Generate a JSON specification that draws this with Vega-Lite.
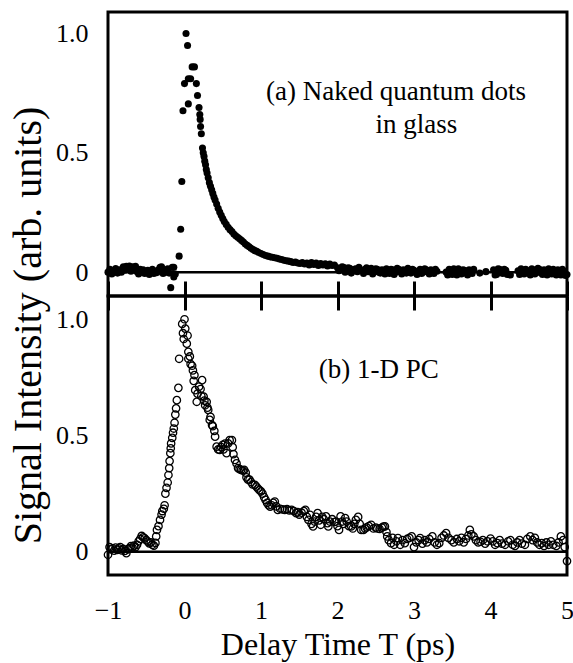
{
  "$schema": "https://vega.github.io/schema/vega-lite/v6.json",
  "background": "white",
  "padding": {"left": 6, "top": 10, "right": 3, "bottom": 4},
  "spacing": 0,
  "bounds": "flush",
  "config": {
    "font": "Liberation Serif",
    "view": {"stroke": "black", "strokeWidth": 3},
    "axis": {"domain": false, "ticks": false, "grid": true, "gridColor": "black", "gridWidth": 3, "gridOpacity": 1, "gridDash": [15, 2000], "labelColor": "black", "titleColor": "black", "labelFont": "Liberation Serif", "titleFont": "Liberation Serif", "labelFontSize": 26, "titleFontWeight": "normal", "labelFlush": false, "labelOverlap": false},
    "text": {"font": "Liberation Serif"}
  },
  "datasets": {
    "a": [
      {"t":-1.0,"s":0.0},{"t":-0.975,"s":0.012},{"t":-0.95,"s":-0.008},{"t":-0.925,"s":0.004},{"t":-0.9,"s":0.015},{"t":-0.875,"s":-0.004},{"t":-0.85,"s":0.01},{"t":-0.825,"s":0.0},{"t":-0.8,"s":0.022},{"t":-0.78,"s":0.008},{"t":-0.76,"s":0.025},{"t":-0.74,"s":0.012},{"t":-0.72,"s":0.026},{"t":-0.7,"s":0.004},{"t":-0.68,"s":0.022},{"t":-0.66,"s":0.01},{"t":-0.64,"s":0.024},{"t":-0.62,"s":0.002},{"t":-0.6,"s":-0.008},{"t":-0.58,"s":0.012},{"t":-0.56,"s":0.0},{"t":-0.54,"s":0.01},{"t":-0.52,"s":-0.006},{"t":-0.5,"s":0.003},{"t":-0.48,"s":0.008},{"t":-0.46,"s":-0.01},{"t":-0.44,"s":0.002},{"t":-0.42,"s":0.012},{"t":-0.4,"s":-0.006},{"t":-0.38,"s":0.004},{"t":-0.36,"s":-0.002},{"t":-0.34,"s":0.01},{"t":-0.32,"s":0.02},{"t":-0.3,"s":0.022},{"t":-0.28,"s":-0.006},{"t":-0.26,"s":0.004},{"t":-0.24,"s":0.0},{"t":-0.22,"s":0.014},{"t":-0.2,"s":-0.004},{"t":-0.18,"s":-0.065},{"t":-0.16,"s":0.02},{"t":-0.14,"s":0.02},{"t":-0.14,"s":-0.02},{"t":-0.12,"s":-0.008},
      {"t":-0.07,"s":0.067},{"t":-0.05,"s":0.18},{"t":-0.035,"s":0.38},{"t":-0.02,"s":0.676},{"t":0.0,"s":0.79},{"t":0.02,"s":1.0},{"t":0.04,"s":0.95},{"t":0.05,"s":0.81},{"t":0.05,"s":0.705},{"t":0.08,"s":0.81},{"t":0.1,"s":0.86},{"t":0.13,"s":0.86},{"t":0.155,"s":0.79},{"t":0.17,"s":0.74},{"t":0.19,"s":0.69},{"t":0.2,"s":0.66},{"t":0.205,"s":0.64},{"t":0.21,"s":0.61},{"t":0.22,"s":0.58},{"t":0.235,"s":0.52},
      {"t":0.245,"s":0.5},{"t":0.255,"s":0.485},{"t":0.265,"s":0.465},{"t":0.275,"s":0.45},{"t":0.285,"s":0.43},{"t":0.295,"s":0.415},{"t":0.31,"s":0.395},{"t":0.325,"s":0.375},{"t":0.34,"s":0.36},{"t":0.355,"s":0.345},{"t":0.37,"s":0.33},{"t":0.385,"s":0.315},{"t":0.4,"s":0.302},{"t":0.42,"s":0.285},{"t":0.44,"s":0.268},{"t":0.46,"s":0.252},{"t":0.48,"s":0.238},{"t":0.5,"s":0.225},{"t":0.52,"s":0.212},{"t":0.545,"s":0.2},{"t":0.57,"s":0.188},{"t":0.595,"s":0.178},{"t":0.62,"s":0.17},{"t":0.645,"s":0.16},{"t":0.67,"s":0.152},{"t":0.695,"s":0.146},{"t":0.72,"s":0.14},{"t":0.745,"s":0.133},{"t":0.77,"s":0.126},{"t":0.795,"s":0.118},{"t":0.82,"s":0.112},{"t":0.845,"s":0.106},{"t":0.87,"s":0.1},{"t":0.895,"s":0.095},{"t":0.92,"s":0.09},{"t":0.945,"s":0.087},{"t":0.97,"s":0.082},{"t":1.0,"s":0.078},{"t":1.03,"s":0.074},{"t":1.06,"s":0.07},{"t":1.09,"s":0.067},{"t":1.12,"s":0.064},{"t":1.15,"s":0.062},{"t":1.18,"s":0.06},{"t":1.21,"s":0.058},{"t":1.24,"s":0.055},{"t":1.27,"s":0.053},{"t":1.3,"s":0.05},{"t":1.33,"s":0.048},{"t":1.36,"s":0.046},{"t":1.39,"s":0.044},{"t":1.42,"s":0.04},{"t":1.45,"s":0.042},{"t":1.48,"s":0.038},{"t":1.51,"s":0.036},{"t":1.54,"s":0.04},{"t":1.57,"s":0.034},
      {"t":1.6,"s":0.038},{"t":1.63,"s":0.03},{"t":1.66,"s":0.04},{"t":1.69,"s":0.032},{"t":1.72,"s":0.038},{"t":1.75,"s":0.028},{"t":1.78,"s":0.036},{"t":1.81,"s":0.03},{"t":1.84,"s":0.035},{"t":1.87,"s":0.026},{"t":1.9,"s":0.034},{"t":1.93,"s":0.028},{"t":1.96,"s":0.03},{"t":2.0,"s":0.018},{"t":2.02,"s":0.006},{"t":2.04,"s":0.012},{"t":2.06,"s":0.022},{"t":2.08,"s":0.02},{"t":2.1,"s":0.0},{"t":2.12,"s":0.008},{"t":2.14,"s":0.018},{"t":2.16,"s":0.016},{"t":2.18,"s":-0.004},{"t":2.2,"s":0.004},{"t":2.22,"s":0.012},{"t":2.24,"s":0.014},{"t":2.26,"s":0.002},{"t":2.28,"s":0.02},{"t":2.3,"s":0.01},{"t":2.32,"s":0.006},{"t":2.34,"s":-0.006},{"t":2.36,"s":0.012},{"t":2.38,"s":0.018},{"t":2.4,"s":0.002},{"t":2.42,"s":0.008},{"t":2.44,"s":0.016},{"t":2.46,"s":-0.008},{"t":2.48,"s":0.005},{"t":2.5,"s":0.014},{"t":2.52,"s":0.012},{"t":2.54,"s":0.0},{"t":2.56,"s":-0.004},{"t":2.58,"s":0.01},{"t":2.6,"s":0.008},
      {"t":2.62,"s":-0.008},{"t":2.64,"s":0.014},{"t":2.66,"s":0.004},{"t":2.68,"s":-0.006},{"t":2.7,"s":0.012},{"t":2.72,"s":0.01},{"t":2.74,"s":-0.01},{"t":2.76,"s":0.0},{"t":2.78,"s":0.016},{"t":2.8,"s":0.012},{"t":2.82,"s":0.002},{"t":2.84,"s":-0.008},{"t":2.86,"s":0.01},{"t":2.88,"s":0.006},{"t":2.9,"s":-0.004},{"t":2.92,"s":0.016},{"t":2.94,"s":0.008},{"t":2.96,"s":-0.004},{"t":2.98,"s":0.012},{"t":3.0,"s":0.008},{"t":3.02,"s":0.0},{"t":3.04,"s":-0.01},{"t":3.06,"s":0.004},{"t":3.08,"s":0.012},{"t":3.1,"s":-0.006},{"t":3.12,"s":0.0},{"t":3.14,"s":0.014},{"t":3.16,"s":0.01},{"t":3.18,"s":0.002},{"t":3.2,"s":-0.008},{"t":3.22,"s":0.01},{"t":3.24,"s":0.004},{"t":3.26,"s":-0.006},{"t":3.28,"s":0.012},{"t":3.3,"s":0.004},{"t":3.42,"s":0.0},{"t":3.44,"s":-0.012},{"t":3.46,"s":0.012},{"t":3.48,"s":0.004},{"t":3.5,"s":-0.01},{"t":3.52,"s":0.014},{"t":3.54,"s":0.006},{"t":3.56,"s":-0.012},{"t":3.58,"s":0.014},{"t":3.6,"s":0.002},{"t":3.62,"s":-0.008},{"t":3.64,"s":0.01},{"t":3.66,"s":0.008},{"t":3.68,"s":-0.004},{"t":3.7,"s":-0.012},{"t":3.72,"s":0.01},{"t":3.74,"s":0.004},{"t":3.76,"s":-0.006},{"t":3.78,"s":0.012},{"t":3.86,"s":-0.004},{"t":3.94,"s":0.002},{"t":4.04,"s":0.01},{"t":4.06,"s":-0.012},{"t":4.08,"s":-0.01},{"t":4.1,"s":0.014},{"t":4.12,"s":0.012},{"t":4.14,"s":0.0},{"t":4.16,"s":-0.006},{"t":4.18,"s":0.012},{"t":4.2,"s":0.008},{"t":4.22,"s":-0.01},{"t":4.26,"s":-0.012},{"t":4.36,"s":0.006},{"t":4.38,"s":-0.01},{"t":4.4,"s":0.014},{"t":4.42,"s":0.004},{"t":4.44,"s":-0.008},{"t":4.46,"s":0.012},{"t":4.48,"s":0.006},{"t":4.5,"s":-0.004},{"t":4.52,"s":-0.012},{"t":4.54,"s":0.014},{"t":4.56,"s":0.01},{"t":4.58,"s":-0.008},{"t":4.6,"s":0.0},{"t":4.62,"s":0.016},{"t":4.64,"s":0.012},{"t":4.66,"s":-0.004},{"t":4.68,"s":-0.01},{"t":4.7,"s":0.01},{"t":4.72,"s":0.004},{"t":4.74,"s":-0.012},{"t":4.76,"s":0.014},{"t":4.78,"s":0.006},{"t":4.8,"s":-0.008},{"t":4.82,"s":0.012},{"t":4.84,"s":0.004},{"t":4.86,"s":-0.012},{"t":4.88,"s":0.01},{"t":4.9,"s":0.0},{"t":4.92,"s":-0.012},{"t":4.94,"s":0.012},{"t":4.96,"s":0.004},{"t":4.98,"s":-0.014},{"t":5.0,"s":-0.01}
    ],
    "b": [
      {"t":-1.0,"s":-0.013},{"t":-0.98,"s":0.02},{"t":-0.96,"s":0.01},{"t":-0.94,"s":0.015},{"t":-0.92,"s":0.005},{"t":-0.9,"s":0.018},{"t":-0.88,"s":0.008},{"t":-0.86,"s":0.015},{"t":-0.84,"s":0.02},{"t":-0.82,"s":0.006},{"t":-0.8,"s":0.012},{"t":-0.78,"s":0.004},{"t":-0.76,"s":-0.006},{"t":-0.74,"s":0.01},{"t":-0.72,"s":0.016},{"t":-0.7,"s":0.024},{"t":-0.68,"s":0.018},{"t":-0.66,"s":0.026},{"t":-0.64,"s":0.02},{"t":-0.62,"s":0.03},{"t":-0.6,"s":0.045},{"t":-0.58,"s":0.055},{"t":-0.56,"s":0.068},{"t":-0.54,"s":0.062},{"t":-0.52,"s":0.058},{"t":-0.5,"s":0.05},{"t":-0.48,"s":0.044},{"t":-0.46,"s":0.036},{"t":-0.44,"s":0.04},{"t":-0.42,"s":0.03},{"t":-0.4,"s":0.026},{"t":-0.38,"s":0.038},{"t":-0.37,"s":0.066},{"t":-0.36,"s":0.094},{"t":-0.34,"s":0.11},{"t":-0.32,"s":0.137},{"t":-0.3,"s":0.16},{"t":-0.29,"s":0.175},{"t":-0.27,"s":0.185},{"t":-0.26,"s":0.2},{"t":-0.25,"s":0.25},{"t":-0.235,"s":0.275},{"t":-0.22,"s":0.298},{"t":-0.21,"s":0.33},{"t":-0.2,"s":0.36},{"t":-0.195,"s":0.39},{"t":-0.185,"s":0.424},{"t":-0.18,"s":0.445},{"t":-0.175,"s":0.466},{"t":-0.16,"s":0.49},{"t":-0.15,"s":0.512},{"t":-0.14,"s":0.53},{"t":-0.13,"s":0.555},{"t":-0.12,"s":0.59},{"t":-0.11,"s":0.617},{"t":-0.1,"s":0.652},{"t":-0.08,"s":0.705},
      {"t":-0.07,"s":0.83},{"t":-0.03,"s":0.98},{"t":-0.02,"s":0.94},{"t":-0.01,"s":0.915},{"t":0.0,"s":1.0},{"t":0.01,"s":0.96},{"t":0.03,"s":0.895},{"t":0.04,"s":0.93},{"t":0.05,"s":0.86},{"t":0.05,"s":0.83},{"t":0.07,"s":0.84},{"t":0.08,"s":0.807},{"t":0.1,"s":0.8},{"t":0.11,"s":0.78},{"t":0.12,"s":0.735},{"t":0.13,"s":0.76},{"t":0.14,"s":0.695},{"t":0.16,"s":0.645},{"t":0.17,"s":0.68},{"t":0.19,"s":0.71},{"t":0.21,"s":0.7},{"t":0.23,"s":0.738},{"t":0.22,"s":0.67},{"t":0.25,"s":0.667},{"t":0.26,"s":0.65},{"t":0.27,"s":0.63},{"t":0.29,"s":0.645},{"t":0.3,"s":0.62},{"t":0.31,"s":0.61},{"t":0.33,"s":0.567},{"t":0.34,"s":0.58},{"t":0.36,"s":0.545},{"t":0.37,"s":0.54},{"t":0.39,"s":0.52},{"t":0.4,"s":0.495},{"t":0.42,"s":0.452},{"t":0.44,"s":0.44},{"t":0.46,"s":0.438},{"t":0.48,"s":0.45},{"t":0.5,"s":0.46},{"t":0.51,"s":0.44},{"t":0.53,"s":0.465},{"t":0.55,"s":0.424},{"t":0.57,"s":0.466},{"t":0.59,"s":0.48},{"t":0.62,"s":0.48},{"t":0.63,"s":0.45},{"t":0.64,"s":0.42},{"t":0.66,"s":0.395},{"t":0.68,"s":0.38},{"t":0.7,"s":0.36},{"t":0.72,"s":0.355},{"t":0.74,"s":0.352},{"t":0.76,"s":0.35},{"t":0.78,"s":0.352},{"t":0.8,"s":0.34},{"t":0.81,"s":0.32},{"t":0.83,"s":0.31},{"t":0.85,"s":0.31},{"t":0.87,"s":0.3},{"t":0.89,"s":0.29},{"t":0.92,"s":0.288},{"t":0.94,"s":0.28},{"t":0.96,"s":0.272},{"t":0.98,"s":0.265},{"t":1.0,"s":0.26},{"t":1.02,"s":0.25},{"t":1.04,"s":0.235},{"t":1.06,"s":0.223},{"t":1.08,"s":0.21},{"t":1.1,"s":0.2},{"t":1.12,"s":0.194},{"t":1.14,"s":0.2},{"t":1.16,"s":0.21},{"t":1.18,"s":0.216},{"t":1.2,"s":0.195},{"t":1.22,"s":0.18},{"t":1.25,"s":0.185},{"t":1.28,"s":0.182},{"t":1.31,"s":0.18},{"t":1.34,"s":0.183},{"t":1.37,"s":0.178},{"t":1.4,"s":0.18},{"t":1.43,"s":0.175},{"t":1.46,"s":0.166},{"t":1.48,"s":0.17},{"t":1.5,"s":0.16},{"t":1.53,"s":0.168},{"t":1.56,"s":0.175},{"t":1.58,"s":0.18},{"t":1.6,"s":0.15},{"t":1.62,"s":0.137},{"t":1.64,"s":0.159},{"t":1.66,"s":0.12},{"t":1.68,"s":0.109},{"t":1.7,"s":0.13},{"t":1.72,"s":0.15},{"t":1.74,"s":0.166},{"t":1.76,"s":0.135},{"t":1.78,"s":0.116},{"t":1.8,"s":0.15},{"t":1.82,"s":0.14},{"t":1.85,"s":0.152},{"t":1.87,"s":0.123},{"t":1.88,"s":0.109},{"t":1.9,"s":0.13},{"t":1.93,"s":0.14},{"t":1.96,"s":0.128},{"t":1.98,"s":0.13},{"t":2.0,"s":0.11},{"t":2.02,"s":0.094},{"t":2.04,"s":0.152},{"t":2.06,"s":0.13},{"t":2.08,"s":0.12},{"t":2.1,"s":0.145},{"t":2.12,"s":0.13},{"t":2.15,"s":0.11},{"t":2.18,"s":0.109},{"t":2.2,"s":0.1},{"t":2.22,"s":0.12},{"t":2.24,"s":0.137},{"t":2.27,"s":0.15},{"t":2.29,"s":0.12},{"t":2.31,"s":0.094},{"t":2.34,"s":0.094},{"t":2.36,"s":0.1},{"t":2.38,"s":0.105},{"t":2.41,"s":0.11},{"t":2.44,"s":0.116},{"t":2.47,"s":0.1},{"t":2.5,"s":0.104},{"t":2.52,"s":0.1},{"t":2.55,"s":0.098},{"t":2.58,"s":0.104},{"t":2.6,"s":0.108},{"t":2.62,"s":0.109},{"t":2.64,"s":0.085},{"t":2.65,"s":0.066},{"t":2.67,"s":0.05},{"t":2.7,"s":0.037},{"t":2.72,"s":0.06},{"t":2.74,"s":0.03},{"t":2.77,"s":0.045},{"t":2.79,"s":0.059},{"t":2.82,"s":0.03},{"t":2.85,"s":0.05},{"t":2.88,"s":0.037},{"t":2.91,"s":0.055},{"t":2.94,"s":0.06},{"t":2.97,"s":0.066},{"t":3.0,"s":0.02},{"t":3.03,"s":0.04},{"t":3.06,"s":0.05},{"t":3.08,"s":0.059},{"t":3.11,"s":0.035},{"t":3.14,"s":0.05},{"t":3.17,"s":0.04},{"t":3.2,"s":0.055},{"t":3.24,"s":0.066},{"t":3.27,"s":0.04},{"t":3.3,"s":0.03},{"t":3.33,"s":0.037},{"t":3.36,"s":0.06},{"t":3.39,"s":0.07},{"t":3.42,"s":0.08},{"t":3.45,"s":0.06},{"t":3.49,"s":0.05},{"t":3.52,"s":0.04},{"t":3.56,"s":0.055},{"t":3.59,"s":0.045},{"t":3.62,"s":0.06},{"t":3.65,"s":0.04},{"t":3.68,"s":0.055},{"t":3.71,"s":0.07},{"t":3.73,"s":0.094},{"t":3.75,"s":0.075},{"t":3.78,"s":0.066},{"t":3.81,"s":0.05},{"t":3.84,"s":0.04},{"t":3.87,"s":0.043},{"t":3.9,"s":0.05},{"t":3.93,"s":0.035},{"t":3.96,"s":0.045},{"t":4.0,"s":0.057},{"t":4.03,"s":0.045},{"t":4.06,"s":0.03},{"t":4.09,"s":0.037},{"t":4.12,"s":0.05},{"t":4.15,"s":0.035},{"t":4.19,"s":0.03},{"t":4.23,"s":0.045},{"t":4.26,"s":0.05},{"t":4.29,"s":0.03},{"t":4.32,"s":0.025},{"t":4.35,"s":0.04},{"t":4.38,"s":0.05},{"t":4.41,"s":0.035},{"t":4.45,"s":0.03},{"t":4.48,"s":0.055},{"t":4.52,"s":0.066},{"t":4.55,"s":0.05},{"t":4.58,"s":0.06},{"t":4.61,"s":0.04},{"t":4.64,"s":0.03},{"t":4.67,"s":0.037},{"t":4.7,"s":0.025},{"t":4.73,"s":0.04},{"t":4.76,"s":0.03},{"t":4.79,"s":0.045},{"t":4.82,"s":0.03},{"t":4.86,"s":0.025},{"t":4.89,"s":0.04},{"t":4.92,"s":0.066},{"t":4.95,"s":0.05},{"t":4.97,"s":0.02},{"t":5.0,"s":-0.04}
    ],
    "one": [{"k": 1}]
  },
  "vconcat": [
    {
      "width": 459,
      "height": 284,
      "resolve": {"axis": {"x": "independent", "y": "independent"}},
      "layer": [
        {
          "data": {"name": "one"},
          "mark": {"type": "rule", "color": "black", "strokeWidth": 2.5},
          "encoding": {
            "y": {"datum": 0, "type": "quantitative", "scale": {"domain": [-0.1, 1.09], "nice": false, "zero": false}, "axis": null}
          }
        },
        {
          "data": {"name": "a"},
          "mark": {"type": "point", "filled": true, "shape": "circle", "size": 50, "color": "black", "opacity": 1},
          "encoding": {
            "x": {"field": "t", "type": "quantitative", "scale": {"domain": [-1, 5], "nice": false, "zero": false},
                  "axis": {"orient": "top", "values": [-1, 0, 1, 2, 3, 4, 5], "labels": false, "title": null}},
            "y": {"field": "s", "type": "quantitative", "scale": {"domain": [-0.1, 1.09], "nice": false, "zero": false},
                  "axis": {"orient": "left", "values": [0, 0.5, 1], "labelPadding": 20, "gridDash": [16, 2000],
                           "labelExpr": "datum.value == 0 ? '0' : format(datum.value, '.1f')",
                           "title": "Signal Intensity (arb. units)", "titleFontSize": 40, "titleAngle": 270,
                           "titleX": -60, "titleY": 313, "titleBaseline": "bottom", "titleAlign": "center"}}
          }
        },
        {
          "data": {"name": "one"},
          "mark": {"type": "text", "fontSize": 27, "align": "center", "baseline": "alphabetic", "color": "black", "text": "(a) Naked quantum dots"},
          "encoding": {
            "x": {"datum": 2.765, "type": "quantitative", "scale": {"domain": [-1, 5], "nice": false, "zero": false},
                  "axis": {"orient": "bottom", "values": [-1, 0, 1, 2, 3, 4, 5], "labels": false, "title": null}},
            "y": {"datum": 0.72, "type": "quantitative", "scale": {"domain": [-0.1, 1.09], "nice": false, "zero": false},
                  "axis": {"orient": "right", "values": [0.5, 1], "labels": false, "title": null}}
          }
        },
        {
          "data": {"name": "one"},
          "mark": {"type": "text", "fontSize": 27, "align": "center", "baseline": "alphabetic", "color": "black", "text": "in glass"},
          "encoding": {
            "x": {"datum": 3.03, "type": "quantitative", "scale": {"domain": [-1, 5], "nice": false, "zero": false}, "axis": null},
            "y": {"datum": 0.583, "type": "quantitative", "scale": {"domain": [-0.1, 1.09], "nice": false, "zero": false}, "axis": null}
          }
        }
      ]
    },
    {
      "width": 459,
      "height": 279,
      "resolve": {"axis": {"x": "independent", "y": "independent"}},
      "layer": [
        {
          "data": {"name": "one"},
          "mark": {"type": "rule", "color": "black", "strokeWidth": 2.5},
          "encoding": {
            "y": {"datum": 0, "type": "quantitative", "scale": {"domain": [-0.1, 1.1], "nice": false, "zero": false}, "axis": null}
          }
        },
        {
          "data": {"name": "b"},
          "mark": {"type": "point", "filled": false, "shape": "circle", "size": 55, "color": "black", "strokeWidth": 1.3, "opacity": 1},
          "encoding": {
            "x": {"field": "t", "type": "quantitative", "scale": {"domain": [-1, 5], "nice": false, "zero": false},
                  "axis": {"orient": "bottom", "values": [-1, 0, 1, 2, 3, 4, 5], "labelPadding": 22, "gridDash": [14, 2000],
                           "title": "Delay Time T (ps)", "titleFontSize": 32, "titlePadding": 6}},
            "y": {"field": "s", "type": "quantitative", "scale": {"domain": [-0.1, 1.1], "nice": false, "zero": false},
                  "axis": {"orient": "left", "values": [0, 0.5, 1], "labelPadding": 20, "gridDash": [16, 2000],
                           "labelExpr": "datum.value == 0 ? '0' : format(datum.value, '.1f')", "title": null}}
          }
        },
        {
          "data": {"name": "one"},
          "mark": {"type": "text", "fontSize": 27, "align": "center", "baseline": "alphabetic", "color": "black", "text": "(b) 1-D PC"},
          "encoding": {
            "x": {"datum": 2.54, "type": "quantitative", "scale": {"domain": [-1, 5], "nice": false, "zero": false},
                  "axis": {"orient": "top", "values": [-1, 0, 1, 2, 3, 4, 5], "labels": false, "title": null}},
            "y": {"datum": 0.747, "type": "quantitative", "scale": {"domain": [-0.1, 1.1], "nice": false, "zero": false},
                  "axis": {"orient": "right", "values": [0.5, 1], "labels": false, "title": null}}
          }
        }
      ]
    }
  ]
}
